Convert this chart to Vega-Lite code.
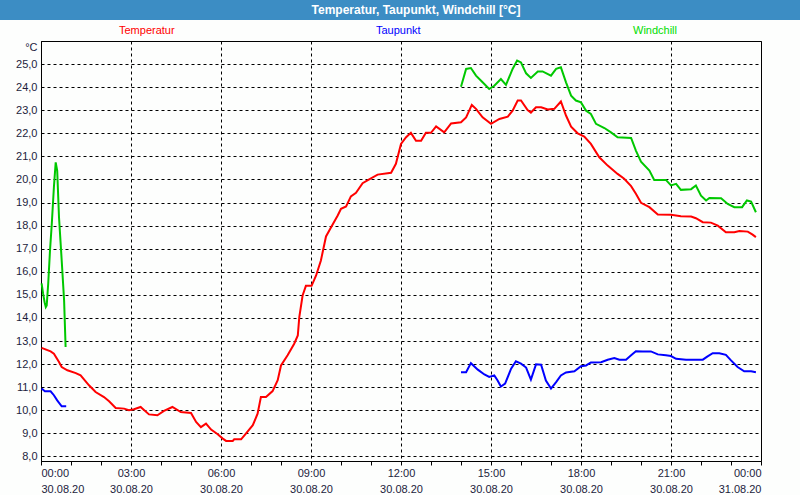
{
  "$schema": "https://vega.github.io/schema/vega-lite/v6.json",
  "padding": 0,
  "background": "#fdfefd",
  "spacing": 20,
  "vconcat": [
    {
      "width": 800,
      "height": 20,
      "view": {"fill": "#3c8dc4", "stroke": null},
      "data": {"values": [{"t": "Temperatur, Taupunkt, Windchill [°C]"}]},
      "mark": {"type": "text", "color": "white", "font": "Liberation Sans", "fontWeight": "bold", "fontSize": 12, "dx": 16},
      "encoding": {"text": {"field": "t", "type": "nominal"}}
    },
    {
      "spacing": 0,
      "hconcat": [
        {
          "width": 1,
          "height": 420,
          "view": {"fill": "#fdfefd", "stroke": null},
          "data": {"values": []},
          "mark": "point"
        },
        {
          "width": 720,
          "height": 420,
          "view": {"stroke": "black", "strokeWidth": 1},
          "data": {"values": [
            {"s":"Temperatur","g":1,"h":0.02,"v":12.70},{"s":"Temperatur","g":1,"h":0.32,"v":12.55},{"s":"Temperatur","g":1,"h":0.43,"v":12.45},{"s":"Temperatur","g":1,"h":0.60,"v":12.09},{"s":"Temperatur","g":1,"h":0.69,"v":11.87},{"s":"Temperatur","g":1,"h":0.88,"v":11.73},{"s":"Temperatur","g":1,"h":1.16,"v":11.61},{"s":"Temperatur","g":1,"h":1.32,"v":11.51},{"s":"Temperatur","g":1,"h":1.60,"v":11.08},{"s":"Temperatur","g":1,"h":1.82,"v":10.79},{"s":"Temperatur","g":1,"h":2.10,"v":10.57},{"s":"Temperatur","g":1,"h":2.27,"v":10.39},{"s":"Temperatur","g":1,"h":2.49,"v":10.10},{"s":"Temperatur","g":1,"h":2.77,"v":10.07},{"s":"Temperatur","g":1,"h":2.93,"v":10.00},{"s":"Temperatur","g":1,"h":3.10,"v":10.04},{"s":"Temperatur","g":1,"h":3.32,"v":10.14},{"s":"Temperatur","g":1,"h":3.60,"v":9.82},{"s":"Temperatur","g":1,"h":3.88,"v":9.78},{"s":"Temperatur","g":1,"h":4.10,"v":9.97},{"s":"Temperatur","g":1,"h":4.38,"v":10.14},{"s":"Temperatur","g":1,"h":4.66,"v":9.92},{"s":"Temperatur","g":1,"h":5.00,"v":9.88},{"s":"Temperatur","g":1,"h":5.17,"v":9.49},{"s":"Temperatur","g":1,"h":5.33,"v":9.27},{"s":"Temperatur","g":1,"h":5.50,"v":9.42},{"s":"Temperatur","g":1,"h":5.67,"v":9.16},{"s":"Temperatur","g":1,"h":5.89,"v":8.96},{"s":"Temperatur","g":1,"h":6.06,"v":8.77},{"s":"Temperatur","g":1,"h":6.17,"v":8.67},{"s":"Temperatur","g":1,"h":6.39,"v":8.67},{"s":"Temperatur","g":1,"h":6.44,"v":8.74},{"s":"Temperatur","g":1,"h":6.67,"v":8.74},{"s":"Temperatur","g":1,"h":6.83,"v":8.99},{"s":"Temperatur","g":1,"h":7.06,"v":9.35},{"s":"Temperatur","g":1,"h":7.22,"v":9.85},{"s":"Temperatur","g":1,"h":7.33,"v":10.57},{"s":"Temperatur","g":1,"h":7.50,"v":10.57},{"s":"Temperatur","g":1,"h":7.72,"v":10.83},{"s":"Temperatur","g":1,"h":7.89,"v":11.30},{"s":"Temperatur","g":1,"h":8.00,"v":11.94},{"s":"Temperatur","g":1,"h":8.22,"v":12.38},{"s":"Temperatur","g":1,"h":8.44,"v":12.88},{"s":"Temperatur","g":1,"h":8.56,"v":13.24},{"s":"Temperatur","g":1,"h":8.61,"v":14.04},{"s":"Temperatur","g":1,"h":8.72,"v":14.97},{"s":"Temperatur","g":1,"h":8.83,"v":15.39},{"s":"Temperatur","g":1,"h":9.02,"v":15.39},{"s":"Temperatur","g":1,"h":9.17,"v":15.84},{"s":"Temperatur","g":1,"h":9.33,"v":16.49},{"s":"Temperatur","g":1,"h":9.50,"v":17.53},{"s":"Temperatur","g":1,"h":9.67,"v":17.93},{"s":"Temperatur","g":1,"h":9.89,"v":18.44},{"s":"Temperatur","g":1,"h":10.00,"v":18.73},{"s":"Temperatur","g":1,"h":10.17,"v":18.83},{"s":"Temperatur","g":1,"h":10.33,"v":19.27},{"s":"Temperatur","g":1,"h":10.50,"v":19.42},{"s":"Temperatur","g":1,"h":10.72,"v":19.84},{"s":"Temperatur","g":1,"h":10.94,"v":20.00},{"s":"Temperatur","g":1,"h":11.22,"v":20.21},{"s":"Temperatur","g":1,"h":11.67,"v":20.29},{"s":"Temperatur","g":1,"h":11.83,"v":20.68},{"s":"Temperatur","g":1,"h":12.00,"v":21.54},{"s":"Temperatur","g":1,"h":12.17,"v":21.83},{"s":"Temperatur","g":1,"h":12.33,"v":22.02},{"s":"Temperatur","g":1,"h":12.50,"v":21.68},{"s":"Temperatur","g":1,"h":12.67,"v":21.68},{"s":"Temperatur","g":1,"h":12.83,"v":22.02},{"s":"Temperatur","g":1,"h":13.00,"v":22.02},{"s":"Temperatur","g":1,"h":13.17,"v":22.30},{"s":"Temperatur","g":1,"h":13.44,"v":22.04},{"s":"Temperatur","g":1,"h":13.67,"v":22.43},{"s":"Temperatur","g":1,"h":14.00,"v":22.48},{"s":"Temperatur","g":1,"h":14.17,"v":22.69},{"s":"Temperatur","g":1,"h":14.36,"v":23.23},{"s":"Temperatur","g":1,"h":14.50,"v":23.06},{"s":"Temperatur","g":1,"h":14.72,"v":22.69},{"s":"Temperatur","g":1,"h":15.00,"v":22.41},{"s":"Temperatur","g":1,"h":15.28,"v":22.62},{"s":"Temperatur","g":1,"h":15.56,"v":22.72},{"s":"Temperatur","g":1,"h":15.72,"v":22.98},{"s":"Temperatur","g":1,"h":15.89,"v":23.42},{"s":"Temperatur","g":1,"h":16.00,"v":23.42},{"s":"Temperatur","g":1,"h":16.22,"v":23.01},{"s":"Temperatur","g":1,"h":16.33,"v":22.90},{"s":"Temperatur","g":1,"h":16.50,"v":23.13},{"s":"Temperatur","g":1,"h":16.67,"v":23.13},{"s":"Temperatur","g":1,"h":16.89,"v":23.03},{"s":"Temperatur","g":1,"h":17.11,"v":23.06},{"s":"Temperatur","g":1,"h":17.33,"v":23.38},{"s":"Temperatur","g":1,"h":17.50,"v":22.77},{"s":"Temperatur","g":1,"h":17.67,"v":22.29},{"s":"Temperatur","g":1,"h":17.89,"v":22.00},{"s":"Temperatur","g":1,"h":18.11,"v":21.86},{"s":"Temperatur","g":1,"h":18.33,"v":21.54},{"s":"Temperatur","g":1,"h":18.61,"v":20.96},{"s":"Temperatur","g":1,"h":18.89,"v":20.60},{"s":"Temperatur","g":1,"h":19.22,"v":20.24},{"s":"Temperatur","g":1,"h":19.44,"v":20.03},{"s":"Temperatur","g":1,"h":19.67,"v":19.71},{"s":"Temperatur","g":1,"h":19.83,"v":19.38},{"s":"Temperatur","g":1,"h":20.00,"v":18.99},{"s":"Temperatur","g":1,"h":20.28,"v":18.80},{"s":"Temperatur","g":1,"h":20.56,"v":18.48},{"s":"Temperatur","g":1,"h":21.00,"v":18.47},{"s":"Temperatur","g":1,"h":21.33,"v":18.41},{"s":"Temperatur","g":1,"h":21.67,"v":18.39},{"s":"Temperatur","g":1,"h":21.83,"v":18.32},{"s":"Temperatur","g":1,"h":22.06,"v":18.15},{"s":"Temperatur","g":1,"h":22.33,"v":18.13},{"s":"Temperatur","g":1,"h":22.56,"v":18.00},{"s":"Temperatur","g":1,"h":22.83,"v":17.71},{"s":"Temperatur","g":1,"h":23.11,"v":17.71},{"s":"Temperatur","g":1,"h":23.28,"v":17.77},{"s":"Temperatur","g":1,"h":23.56,"v":17.74},{"s":"Temperatur","g":1,"h":23.72,"v":17.61},{"s":"Temperatur","g":1,"h":23.83,"v":17.50},
            {"s":"Taupunkt","g":1,"h":0.02,"v":10.94},{"s":"Taupunkt","g":1,"h":0.13,"v":10.82},{"s":"Taupunkt","g":1,"h":0.32,"v":10.82},{"s":"Taupunkt","g":1,"h":0.43,"v":10.65},{"s":"Taupunkt","g":1,"h":0.54,"v":10.43},{"s":"Taupunkt","g":1,"h":0.69,"v":10.17},{"s":"Taupunkt","g":1,"h":0.84,"v":10.17},
            {"s":"Taupunkt","g":2,"h":14.00,"v":11.65},{"s":"Taupunkt","g":2,"h":14.17,"v":11.65},{"s":"Taupunkt","g":2,"h":14.33,"v":12.04},{"s":"Taupunkt","g":2,"h":14.56,"v":11.76},{"s":"Taupunkt","g":2,"h":14.78,"v":11.55},{"s":"Taupunkt","g":2,"h":14.94,"v":11.44},{"s":"Taupunkt","g":2,"h":15.11,"v":11.51},{"s":"Taupunkt","g":2,"h":15.22,"v":11.29},{"s":"Taupunkt","g":2,"h":15.33,"v":11.03},{"s":"Taupunkt","g":2,"h":15.47,"v":11.15},{"s":"Taupunkt","g":2,"h":15.67,"v":11.80},{"s":"Taupunkt","g":2,"h":15.83,"v":12.12},{"s":"Taupunkt","g":2,"h":16.00,"v":12.02},{"s":"Taupunkt","g":2,"h":16.17,"v":11.85},{"s":"Taupunkt","g":2,"h":16.33,"v":11.33},{"s":"Taupunkt","g":2,"h":16.50,"v":11.99},{"s":"Taupunkt","g":2,"h":16.67,"v":11.97},{"s":"Taupunkt","g":2,"h":16.83,"v":11.29},{"s":"Taupunkt","g":2,"h":17.00,"v":10.94},{"s":"Taupunkt","g":2,"h":17.17,"v":11.22},{"s":"Taupunkt","g":2,"h":17.33,"v":11.51},{"s":"Taupunkt","g":2,"h":17.50,"v":11.64},{"s":"Taupunkt","g":2,"h":17.78,"v":11.69},{"s":"Taupunkt","g":2,"h":18.00,"v":11.91},{"s":"Taupunkt","g":2,"h":18.17,"v":11.94},{"s":"Taupunkt","g":2,"h":18.33,"v":12.07},{"s":"Taupunkt","g":2,"h":18.67,"v":12.08},{"s":"Taupunkt","g":2,"h":18.89,"v":12.19},{"s":"Taupunkt","g":2,"h":19.11,"v":12.26},{"s":"Taupunkt","g":2,"h":19.28,"v":12.19},{"s":"Taupunkt","g":2,"h":19.50,"v":12.19},{"s":"Taupunkt","g":2,"h":19.67,"v":12.38},{"s":"Taupunkt","g":2,"h":19.83,"v":12.56},{"s":"Taupunkt","g":2,"h":20.06,"v":12.55},{"s":"Taupunkt","g":2,"h":20.33,"v":12.55},{"s":"Taupunkt","g":2,"h":20.56,"v":12.42},{"s":"Taupunkt","g":2,"h":20.83,"v":12.38},{"s":"Taupunkt","g":2,"h":21.00,"v":12.35},{"s":"Taupunkt","g":2,"h":21.17,"v":12.23},{"s":"Taupunkt","g":2,"h":21.50,"v":12.19},{"s":"Taupunkt","g":2,"h":21.78,"v":12.19},{"s":"Taupunkt","g":2,"h":22.06,"v":12.19},{"s":"Taupunkt","g":2,"h":22.22,"v":12.33},{"s":"Taupunkt","g":2,"h":22.39,"v":12.47},{"s":"Taupunkt","g":2,"h":22.61,"v":12.47},{"s":"Taupunkt","g":2,"h":22.83,"v":12.40},{"s":"Taupunkt","g":2,"h":23.00,"v":12.16},{"s":"Taupunkt","g":2,"h":23.22,"v":11.87},{"s":"Taupunkt","g":2,"h":23.44,"v":11.69},{"s":"Taupunkt","g":2,"h":23.67,"v":11.69},{"s":"Taupunkt","g":2,"h":23.83,"v":11.65},
            {"s":"Windchill","g":1,"h":0.02,"v":15.50},{"s":"Windchill","g":1,"h":0.07,"v":15.05},{"s":"Windchill","g":1,"h":0.12,"v":14.68},{"s":"Windchill","g":1,"h":0.16,"v":14.47},{"s":"Windchill","g":1,"h":0.19,"v":14.54},{"s":"Windchill","g":1,"h":0.24,"v":15.48},{"s":"Windchill","g":1,"h":0.30,"v":16.92},{"s":"Windchill","g":1,"h":0.36,"v":18.08},{"s":"Windchill","g":1,"h":0.43,"v":19.66},{"s":"Windchill","g":1,"h":0.49,"v":20.74},{"s":"Windchill","g":1,"h":0.54,"v":20.38},{"s":"Windchill","g":1,"h":0.60,"v":18.36},{"s":"Windchill","g":1,"h":0.69,"v":16.49},{"s":"Windchill","g":1,"h":0.77,"v":14.76},{"s":"Windchill","g":1,"h":0.82,"v":12.74},
            {"s":"Windchill","g":2,"h":14.00,"v":24.02},{"s":"Windchill","g":2,"h":14.17,"v":24.79},{"s":"Windchill","g":2,"h":14.33,"v":24.83},{"s":"Windchill","g":2,"h":14.50,"v":24.50},{"s":"Windchill","g":2,"h":14.72,"v":24.21},{"s":"Windchill","g":2,"h":14.94,"v":23.92},{"s":"Windchill","g":2,"h":15.11,"v":24.06},{"s":"Windchill","g":2,"h":15.33,"v":24.35},{"s":"Windchill","g":2,"h":15.50,"v":24.10},{"s":"Windchill","g":2,"h":15.72,"v":24.79},{"s":"Windchill","g":2,"h":15.87,"v":25.15},{"s":"Windchill","g":2,"h":16.00,"v":25.07},{"s":"Windchill","g":2,"h":16.17,"v":24.60},{"s":"Windchill","g":2,"h":16.33,"v":24.40},{"s":"Windchill","g":2,"h":16.56,"v":24.68},{"s":"Windchill","g":2,"h":16.72,"v":24.68},{"s":"Windchill","g":2,"h":17.00,"v":24.50},{"s":"Windchill","g":2,"h":17.17,"v":24.79},{"s":"Windchill","g":2,"h":17.33,"v":24.86},{"s":"Windchill","g":2,"h":17.50,"v":24.21},{"s":"Windchill","g":2,"h":17.67,"v":23.63},{"s":"Windchill","g":2,"h":17.83,"v":23.42},{"s":"Windchill","g":2,"h":18.00,"v":23.34},{"s":"Windchill","g":2,"h":18.17,"v":22.98},{"s":"Windchill","g":2,"h":18.33,"v":22.84},{"s":"Windchill","g":2,"h":18.50,"v":22.41},{"s":"Windchill","g":2,"h":18.78,"v":22.23},{"s":"Windchill","g":2,"h":19.00,"v":22.04},{"s":"Windchill","g":2,"h":19.22,"v":21.83},{"s":"Windchill","g":2,"h":19.67,"v":21.80},{"s":"Windchill","g":2,"h":19.83,"v":21.25},{"s":"Windchill","g":2,"h":20.00,"v":20.77},{"s":"Windchill","g":2,"h":20.28,"v":20.39},{"s":"Windchill","g":2,"h":20.44,"v":19.98},{"s":"Windchill","g":2,"h":20.83,"v":19.98},{"s":"Windchill","g":2,"h":21.00,"v":19.74},{"s":"Windchill","g":2,"h":21.17,"v":19.81},{"s":"Windchill","g":2,"h":21.33,"v":19.55},{"s":"Windchill","g":2,"h":21.67,"v":19.58},{"s":"Windchill","g":2,"h":21.83,"v":19.74},{"s":"Windchill","g":2,"h":22.00,"v":19.30},{"s":"Windchill","g":2,"h":22.17,"v":19.09},{"s":"Windchill","g":2,"h":22.28,"v":19.20},{"s":"Windchill","g":2,"h":22.67,"v":19.19},{"s":"Windchill","g":2,"h":22.89,"v":18.94},{"s":"Windchill","g":2,"h":23.11,"v":18.80},{"s":"Windchill","g":2,"h":23.37,"v":18.80},{"s":"Windchill","g":2,"h":23.53,"v":19.09},{"s":"Windchill","g":2,"h":23.67,"v":19.04},{"s":"Windchill","g":2,"h":23.83,"v":18.58}
          ]},
          "mark": {"type": "line", "strokeWidth": 2, "interpolate": "linear"},
          "encoding": {
            "x": {
              "field": "h", "type": "quantitative",
              "scale": {"domain": [0, 24], "nice": false, "zero": false},
              "axis": {
                "title": null,
                "values": [0,1,2,3,4,5,6,7,8,9,10,11,12,13,14,15,16,17,18,19,20,21,22,23,24],
                "labelExpr": "datum.value % 3 == 0 ? [format(datum.value % 24, '02d') + ':00', datum.value == 24 ? '31.08.20' : '30.08.20'] : ''",
                "labelOverlap": false,
                "labelFont": "Liberation Sans", "labelFontSize": 11, "labelColor": "#1c1c3c",
                "labelLineHeight": 16, "labelPadding": 2,
                "domainColor": "black", "tickColor": "black", "tickSize": 4,
                "grid": true, "gridColor": "black", "gridDash": [3, 3],
                "gridOpacity": {"condition": {"test": "datum.value % 3 == 0", "value": 1}, "value": 0}
              }
            },
            "y": {
              "field": "v", "type": "quantitative",
              "scale": {"domain": [7.8, 26], "nice": false, "zero": false},
              "axis": {
                "title": "°C", "titleAngle": 0, "titleAlign": "right", "titleBaseline": "middle",
                "titleX": -4, "titleY": 6, "titleFont": "Liberation Sans", "titleFontSize": 11,
                "titleFontWeight": "normal", "titleColor": "#1c1c3c",
                "values": [8,9,10,11,12,13,14,15,16,17,18,19,20,21,22,23,24,25],
                "labelExpr": "replace(format(datum.value, '.1f'), '.', ',')",
                "labelFont": "Liberation Sans", "labelFontSize": 11, "labelColor": "#1c1c3c",
                "labelPadding": 4, "ticks": false, "tickSize": 0,
                "domainColor": "black", "minExtent": 39, "maxExtent": 39,
                "grid": true, "gridColor": "black", "gridDash": [3, 3], "gridOpacity": 1
              }
            },
            "color": {
              "field": "s", "type": "nominal",
              "scale": {"domain": ["Temperatur", "Taupunkt", "Windchill"], "range": ["#ff0000", "#0000ff", "#00c800"]},
              "legend": {
                "title": null, "orient": "none", "legendX": 108, "legendY": 25,
                "direction": "horizontal", "columns": 3, "gridAlign": "all", "columnPadding": 190,
                "symbolSize": 0, "symbolStrokeWidth": 0, "symbolOpacity": 0, "labelOffset": 0,
                "labelFont": "Liberation Sans", "labelFontSize": 11,
                "encode": {"labels": {"update": {"fill": [
                  {"test": "datum.value === 'Temperatur'", "value": "#ff0000"},
                  {"test": "datum.value === 'Taupunkt'", "value": "#0000ff"},
                  {"value": "#00dd00"}
                ]}}}
              }
            },
            "detail": {"field": "g", "type": "nominal"}
          }
        }
      ]
    }
  ]
}
